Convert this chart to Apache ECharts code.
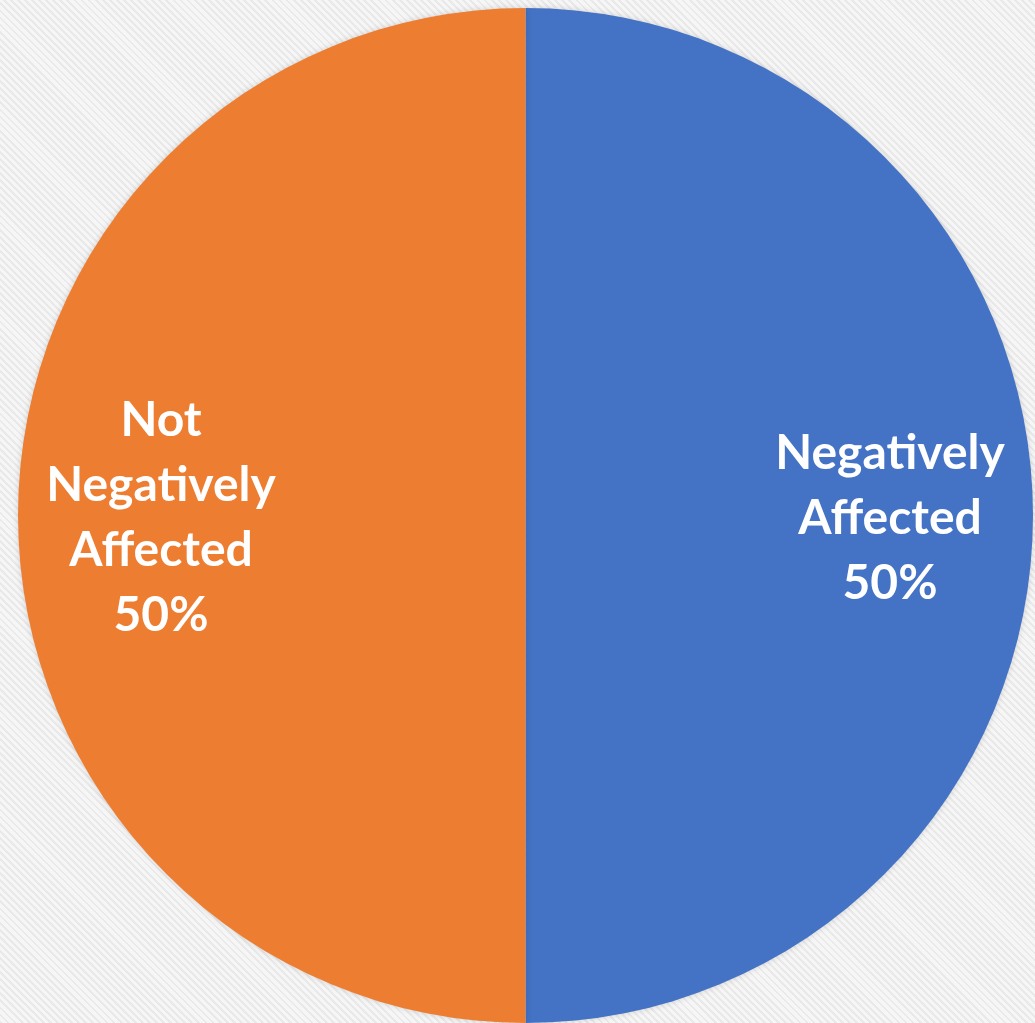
<!DOCTYPE html>
<html>
<head>
<meta charset="utf-8">
<script src="https://cdn.jsdelivr.net/npm/echarts@6/dist/echarts.min.js"></script>
<style>
html,body{margin:0;padding:0;width:1035px;height:1023px;overflow:hidden;}
body{background-color:#f1f1f1;background-image:repeating-linear-gradient(45deg,#e9e9e9 0px,#e9e9e9 2px,#f6f6f6 2px,#f6f6f6 5px);}
#chart{width:1035px;height:1023px;}
</style>
</head>
<body>
<div id="chart"></div>
<script>
const categories = ["Negatively\nAffected", "Not\nNegatively\nAffected"];
const values = [50, 50];
const colors = ["#4472C4", "#ED7D31"];

const pieData = categories.map((c, i) => ({ name: c, value: values[i], itemStyle: { color: colors[i] } }));
const labelData = categories.map((c, i) => ({ name: c, value: values[i] }));

const chart = echarts.init(document.getElementById('chart'), null, { renderer: 'canvas' });
chart.setOption({
  backgroundColor: 'transparent',
  animation: false,
  series: [
    {
      type: 'pie',
      center: [525.5, 515.5],
      radius: [0, 507.5],
      startAngle: 90,
      clockwise: true,
      silent: true,
      label: { show: false },
      labelLine: { show: false },
      itemStyle: { borderWidth: 0, shadowBlur: 6, shadowColor: 'rgba(0,0,0,0.15)' },
      data: pieData
    },
    {
      type: 'pie',
      center: [525.5, 518.5],
      radius: [215.5, 507.5],
      startAngle: 90,
      clockwise: true,
      silent: true,
      itemStyle: { color: 'rgba(0,0,0,0)', borderWidth: 0 },
      label: {
        show: true,
        position: 'inside',
        formatter: p => p.name + '\n' + Math.round(p.percent) + '%',
        color: '#ffffff',
        fontFamily: 'Lato, "Open Sans", sans-serif',
        fontWeight: 'bold',
        fontSize: 48,
        lineHeight: 65,
        align: 'center'
      },
      labelLine: { show: false },
      data: labelData
    }
  ]
});
</script>
</body>
</html>
